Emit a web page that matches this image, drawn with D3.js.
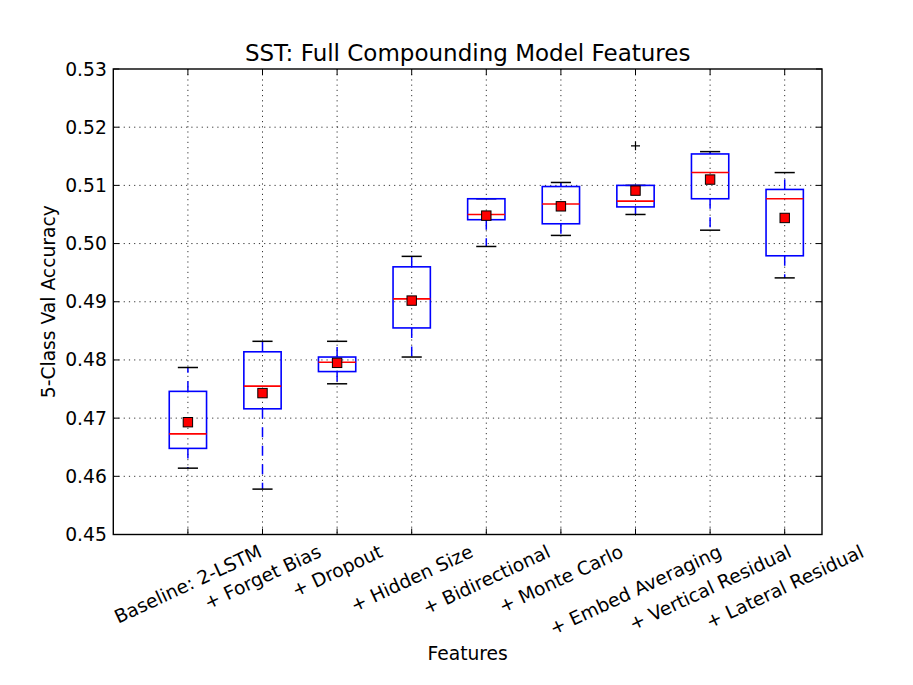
<!DOCTYPE html>
<html>
<head>
<meta charset="utf-8">
<script src="https://cdn.jsdelivr.net/npm/d3@7"></script>
<style>
  body { margin: 0; background: #ffffff; }
  text { font-family: "DejaVu Sans", sans-serif; fill: #000; }
</style>
</head>
<body>
<div id="chart"></div>
<script>
// box statistics
var features = ["Baseline: 2-LSTM", "+ Forget Bias", "+ Dropout", "+ Hidden Size",
                "+ Bidirectional", "+ Monte Carlo", "+ Embed Averaging",
                "+ Vertical Residual", "+ Lateral Residual"];
var whiskerLow = [0.4614, 0.4578, 0.4759, 0.4805, 0.4995, 0.5014, 0.5050, 0.5023, 0.4941];
var q1         = [0.4648, 0.4716, 0.4780, 0.4855, 0.5041, 0.5034, 0.5063, 0.5077, 0.4979];
var medians    = [0.4673, 0.4755, 0.4796, 0.4905, 0.5050, 0.5068, 0.5073, 0.5122, 0.5077];
var q3         = [0.4746, 0.4814, 0.4805, 0.4960, 0.5077, 0.5098, 0.5100, 0.5154, 0.5093];
var whiskerHigh= [0.4787, 0.4832, 0.4832, 0.4978, 0.5077, 0.5105, 0.5100, 0.5158, 0.5122];
var means      = [0.4693, 0.4743, 0.4795, 0.4902, 0.5048, 0.5064, 0.5091, 0.5110, 0.5044];
var fliers     = [[], [], [], [], [], [], [0.5168], [], []];
var yTicks     = [0.45, 0.46, 0.47, 0.48, 0.49, 0.50, 0.51, 0.52, 0.53];

var W = 913, H = 685;
var pLeft = 113.3, pRight = 822, pTop = 69, pBottom = 534.5;
var fs = 18.7;

var svg = d3.select("#chart").append("svg")
  .attr("width", W).attr("height", H);

var x = d3.scaleLinear().domain([0, 9.5]).range([pLeft, pRight]);
var y = d3.scaleLinear().domain([0.45, 0.53]).range([pBottom, pTop]);

var rows = features.map(function(f, i) {
  return {name: f, pos: i + 1, lo: whiskerLow[i], q1: q1[i], med: medians[i],
          q3: q3[i], hi: whiskerHigh[i], mean: means[i], fliers: fliers[i]};
});

// grid
var grid = svg.append("g");
grid.selectAll(".hg").data(yTicks.slice(1, -1)).enter().append("line")
  .attr("x1", pLeft).attr("x2", pRight)
  .attr("y1", function(d){ return y(d); }).attr("y2", function(d){ return y(d); })
  .attr("stroke", "#000").attr("stroke-width", 0.8).attr("stroke-dasharray", "1.2,4");
grid.selectAll(".vg").data(rows).enter().append("line")
  .attr("x1", function(d){ return x(d.pos); }).attr("x2", function(d){ return x(d.pos); })
  .attr("y1", pTop).attr("y2", pBottom)
  .attr("stroke", "#000").attr("stroke-width", 0.8).attr("stroke-dasharray", "1.2,4");

// boxes
var boxW = x(0.5) - x(0), capW = x(0.27) - x(0);
var b = svg.append("g").selectAll("g").data(rows).enter().append("g");

b.append("line")
  .attr("x1", function(d){ return x(d.pos); }).attr("x2", function(d){ return x(d.pos); })
  .attr("y1", function(d){ return y(d.q1); }).attr("y2", function(d){ return y(d.lo); })
  .attr("stroke", "#0000ff").attr("stroke-width", 1.5).attr("stroke-dasharray", "10,8.5");
b.append("line")
  .attr("x1", function(d){ return x(d.pos); }).attr("x2", function(d){ return x(d.pos); })
  .attr("y1", function(d){ return y(d.q3); }).attr("y2", function(d){ return y(d.hi); })
  .attr("stroke", "#0000ff").attr("stroke-width", 1.5).attr("stroke-dasharray", "10,8.5");

["lo", "hi"].forEach(function(k) {
  b.append("line")
    .attr("x1", function(d){ return x(d.pos) - capW / 2; })
    .attr("x2", function(d){ return x(d.pos) + capW / 2; })
    .attr("y1", function(d){ return y(d[k]); }).attr("y2", function(d){ return y(d[k]); })
    .attr("stroke", "#000").attr("stroke-width", 1.5);
});

b.append("rect")
  .attr("x", function(d){ return x(d.pos) - boxW / 2; })
  .attr("width", boxW)
  .attr("y", function(d){ return y(d.q3); })
  .attr("height", function(d){ return y(d.q1) - y(d.q3); })
  .attr("fill", "none").attr("stroke", "#0000ff").attr("stroke-width", 1.6);

b.append("line")
  .attr("x1", function(d){ return x(d.pos) - boxW / 2; })
  .attr("x2", function(d){ return x(d.pos) + boxW / 2; })
  .attr("y1", function(d){ return y(d.med); }).attr("y2", function(d){ return y(d.med); })
  .attr("stroke", "#ff0000").attr("stroke-width", 1.6);

var ms = 9.4;
b.append("rect")
  .attr("x", function(d){ return x(d.pos) - ms / 2; })
  .attr("y", function(d){ return y(d.mean) - ms / 2; })
  .attr("width", ms).attr("height", ms)
  .attr("fill", "#ff0000").attr("stroke", "#000").attr("stroke-width", 1);

// fliers as '+'
b.each(function(d) {
  var g = d3.select(this);
  d.fliers.forEach(function(v) {
    var cx = x(d.pos), cy = y(v), r = 4.5;
    g.append("path")
      .attr("d", "M" + (cx - r) + "," + cy + "H" + (cx + r) + "M" + cx + "," + (cy - r) + "V" + (cy + r))
      .attr("stroke", "#000").attr("stroke-width", 1.2).attr("fill", "none");
  });
});

// ticks (inward, all four sides)
var tl = 6;
var tk = svg.append("g").attr("stroke", "#000").attr("stroke-width", 1);
rows.forEach(function(d) {
  tk.append("line").attr("x1", x(d.pos)).attr("x2", x(d.pos)).attr("y1", pBottom).attr("y2", pBottom - tl);
  tk.append("line").attr("x1", x(d.pos)).attr("x2", x(d.pos)).attr("y1", pTop).attr("y2", pTop + tl);
});
yTicks.forEach(function(v) {
  tk.append("line").attr("x1", pLeft).attr("x2", pLeft + tl).attr("y1", y(v)).attr("y2", y(v));
  tk.append("line").attr("x1", pRight).attr("x2", pRight - tl).attr("y1", y(v)).attr("y2", y(v));
});

// frame
svg.append("rect").attr("x", pLeft).attr("y", pTop)
  .attr("width", pRight - pLeft).attr("height", pBottom - pTop)
  .attr("fill", "none").attr("stroke", "#000").attr("stroke-width", 1.4);

// y tick labels
svg.append("g").selectAll("text").data(yTicks).enter().append("text")
  .attr("x", pLeft - 6.5).attr("y", function(d){ return y(d); })
  .attr("text-anchor", "end").attr("dominant-baseline", "central")
  .style("font-size", fs + "px")
  .text(function(d){ return d.toFixed(2); });

// x tick labels, rotated 25 degrees, bbox centred on tick
var ang = 25 * Math.PI / 180, th = fs * 1.164;
svg.append("g").selectAll("text").data(rows).enter().append("text")
  .attr("text-anchor", "middle").attr("dominant-baseline", "central")
  .style("font-size", fs + "px")
  .text(function(d){ return d.name; })
  .attr("transform", function(d) {
    var w = this.getComputedTextLength();
    var bh = w * Math.sin(ang) + th * Math.cos(ang);
    return "translate(" + x(d.pos) + "," + (540.5 + bh / 2) + ") rotate(-25)";
  });

// titles
svg.append("text").attr("x", (pLeft + pRight) / 2).attr("y", 61)
  .attr("text-anchor", "middle").style("font-size", "23px")
  .text("SST: Full Compounding Model Features");
svg.append("text").attr("x", (pLeft + pRight) / 2).attr("y", 660)
  .attr("text-anchor", "middle").style("font-size", fs + "px")
  .text("Features");
svg.append("text")
  .attr("transform", "translate(55," + ((pTop + pBottom) / 2) + ") rotate(-90)")
  .attr("text-anchor", "middle").style("font-size", fs + "px")
  .text("5-Class Val Accuracy");
</script>
</body>
</html>
